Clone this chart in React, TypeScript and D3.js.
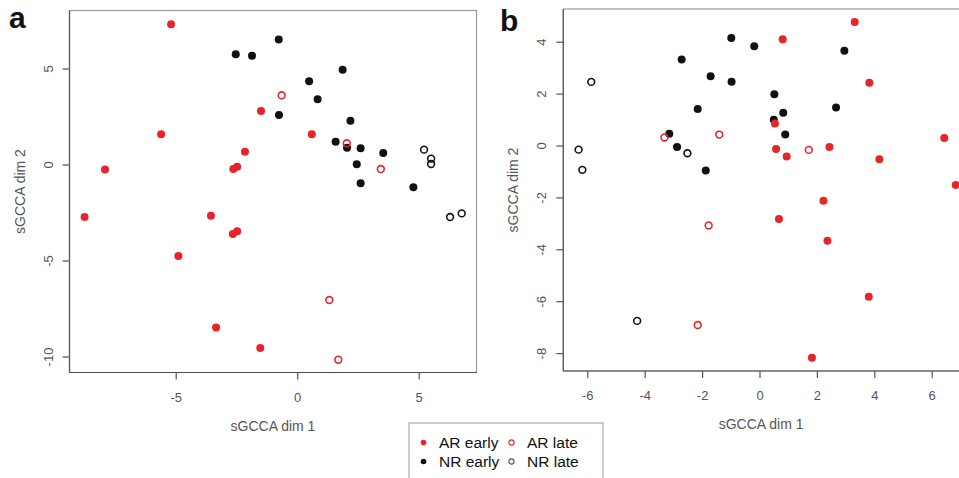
import React from "react";
import * as d3 from "d3";

// Panel a data: [sGCCA dim 1, sGCCA dim 2]
const aArEarly: [number, number][] = [
  [-5.21, 7.33], [-5.62, 1.6], [-7.93, -0.24], [-1.51, 2.81], [0.58, 1.6],
  [-2.17, 0.69], [-2.65, -0.21], [-2.49, -0.09], [-8.77, -2.71], [-3.57, -2.64],
  [-2.67, -3.59], [-2.49, -3.45], [-4.91, -4.74], [-3.36, -8.47], [-1.54, -9.53],
];
const aArLate: [number, number][] = [
  [-0.66, 3.63], [2.02, 1.13], [3.42, -0.21], [1.3, -7.03], [1.67, -10.14],
];
const aNrEarly: [number, number][] = [
  [-2.55, 5.77], [-1.88, 5.69], [-0.78, 6.54], [0.47, 4.36], [0.82, 3.42],
  [-0.77, 2.6], [1.85, 4.96], [2.17, 2.31], [1.56, 1.21], [2.03, 0.9],
  [2.59, 0.87], [3.52, 0.63], [2.43, 0.04], [2.59, -0.95], [4.76, -1.16],
];
const aNrLate: [number, number][] = [
  [5.2, 0.8], [5.49, 0.33], [5.49, 0.05], [6.27, -2.71], [6.75, -2.52],
];

// Panel b data
const bArEarly: [number, number][] = [
  [3.3, 4.78], [0.79, 4.11], [3.81, 2.44], [0.52, 0.87], [0.56, -0.12],
  [0.93, -0.4], [2.42, -0.04], [4.16, -0.51], [6.42, 0.31], [6.82, -1.5],
  [2.21, -2.11], [0.66, -2.81], [2.35, -3.65], [3.79, -5.81], [1.81, -8.16],
];
const bArLate: [number, number][] = [
  [-3.33, 0.33], [-1.42, 0.44], [1.7, -0.15], [-1.79, -3.06], [-2.17, -6.9],
];
const bNrEarly: [number, number][] = [
  [-1.0, 4.16], [-0.2, 3.84], [-2.73, 3.33], [-1.72, 2.69], [-0.99, 2.48],
  [2.94, 3.67], [0.5, 1.99], [0.81, 1.28], [0.48, 1.01], [0.88, 0.44],
  [2.65, 1.48], [-2.17, 1.43], [-3.16, 0.47], [-2.89, -0.04], [-1.89, -0.94],
];
const bNrLate: [number, number][] = [
  [-5.88, 2.47], [-6.32, -0.14], [-6.19, -0.92], [-2.53, -0.28], [-4.28, -6.74],
];

const aXTicks = [-5, 0, 5];
const aYTicks = [-10, -5, 0, 5];
const bXTicks = [-6, -4, -2, 0, 2, 4, 6];
const bYTicks = [-8, -6, -4, -2, 0, 2, 4];

const legendLabels = ["AR early", "AR late", "NR early", "NR late"];

const RED = "#e6242a";
const BLACK = "#111";
const FONT = "'Liberation Sans', Arial, Helvetica, sans-serif";

type PanelProps = {
  letter: string;
  left: number; right: number; top: number; bottom: number;
  xDomain: [number, number]; yDomain: [number, number];
  xTicks: number[]; yTicks: number[];
  arEarly: [number, number][]; arLate: [number, number][];
  nrEarly: [number, number][]; nrLate: [number, number][];
  letterX: number; letterY: number;
};

function Panel(p: PanelProps) {
  const x = d3.scaleLinear().domain(p.xDomain).range([p.left, p.right]);
  const y = d3.scaleLinear().domain(p.yDomain).range([p.bottom, p.top]);
  const axisColor = "#555";
  const r = 4;
  const filled = (pts: [number, number][], col: string) =>
    pts.map((d, i) => <circle key={col + "f" + i} cx={x(d[0])} cy={y(d[1])} r={r} fill={col} />);
  const open = (pts: [number, number][], col: string) =>
    pts.map((d, i) => (
      <circle key={col + "o" + i} cx={x(d[0])} cy={y(d[1])} r={r - 0.6} fill="none" stroke={col} strokeWidth={1.6} />
    ));
  const cx = (p.left + Math.min(p.right, 959)) / 2;
  return (
    <g fontFamily={FONT}>
      <text x={p.letterX} y={p.letterY} fontSize={30} fontWeight="bold" fill="#111">{p.letter}</text>
      <rect x={p.left} y={p.top} width={p.right - p.left} height={p.bottom - p.top} fill="none" stroke="#999" strokeWidth={1.2} />
      {/* x axis */}
      <line x1={p.left} x2={p.right} y1={p.bottom} y2={p.bottom} stroke={axisColor} strokeWidth={1.2} />
      {p.xTicks.map((t) => (
        <g key={"xt" + t}>
          <line x1={x(t)} x2={x(t)} y1={p.bottom} y2={p.bottom + 7} stroke={axisColor} strokeWidth={1.2} />
          <text x={x(t)} y={p.bottom + 29} textAnchor="middle" fontSize={13} fill={axisColor}>{t}</text>
        </g>
      ))}
      {/* y axis */}
      <line x1={p.left} x2={p.left} y1={p.top} y2={p.bottom} stroke={axisColor} strokeWidth={1.2} />
      {p.yTicks.map((t) => (
        <g key={"yt" + t}>
          <line x1={p.left - 7} x2={p.left} y1={y(t)} y2={y(t)} stroke={axisColor} strokeWidth={1.2} />
          <text
            transform={`translate(${p.left - 17},${y(t)}) rotate(-90)`}
            textAnchor="middle" fontSize={13} fill={axisColor}
          >{t}</text>
        </g>
      ))}
      <text x={cx} y={p.bottom + 58} textAnchor="middle" fontSize={14} fill={axisColor}>sGCCA dim 1</text>
      <text
        transform={`translate(${p.left - 45},${(p.top + p.bottom) / 2}) rotate(-90)`}
        textAnchor="middle" fontSize={14} fill={axisColor}
      >sGCCA dim 2</text>
      {filled(p.nrEarly, BLACK)}
      {filled(p.arEarly, RED)}
      {open(p.arLate, RED)}
      {open(p.nrLate, BLACK)}
    </g>
  );
}

export default function App() {
  const W = 959, H = 478;
  // panel a scales (calibration from tick positions)
  const ax = d3.scaleLinear().domain([0, 5]).range([297.7, 419.2]);
  const ay = d3.scaleLinear().domain([0, 5]).range([165, 69]);
  // panel b scales
  const bx = d3.scaleLinear().domain([0, 2]).range([760, 817.4]);
  const by = d3.scaleLinear().domain([0, 2]).range([146, 94.1]);
  const legendSym = [
    { col: RED, fill: true }, { col: RED, fill: false },
    { col: BLACK, fill: true }, { col: "#555", fill: false },
  ];
  return (
    <svg width={W} height={H} style={{ position: "absolute", left: 0, top: 0, background: "#fff" }}>
      <rect x={0} y={0} width={W} height={H} fill="#fff" />
      <Panel
        letter="a" left={69.5} right={476.5} top={10.5} bottom={372.5}
        xDomain={[ax.invert(69.5), ax.invert(476.5)]} yDomain={[ay.invert(372.5), ay.invert(10.5)]}
        xTicks={aXTicks} yTicks={aYTicks}
        arEarly={aArEarly} arLate={aArLate} nrEarly={aNrEarly} nrLate={aNrLate}
        letterX={9} letterY={28}
      />
      <Panel
        letter="b" left={563.3} right={975} top={9} bottom={371}
        xDomain={[bx.invert(563.3), bx.invert(975)]} yDomain={[by.invert(371), by.invert(9)]}
        xTicks={bXTicks} yTicks={bYTicks}
        arEarly={bArEarly} arLate={bArLate} nrEarly={bNrEarly} nrLate={bNrLate}
        letterX={500} letterY={31}
      />
      <g fontFamily={FONT}>
        <rect x={409} y={423} width={194} height={70} fill="#fff" stroke="#aaa" strokeWidth={1.2} />
        {legendLabels.map((lab, i) => {
          const col = i % 2, row = Math.floor(i / 2);
          const sx = col === 0 ? 423.5 : 511.5;
          const sy = row === 0 ? 442.5 : 461.5;
          const s = legendSym[i];
          return (
            <g key={lab}>
              {s.fill ? (
                <circle cx={sx} cy={sy} r={2.8} fill={s.col} />
              ) : (
                <circle cx={sx} cy={sy} r={2.6} fill="none" stroke={s.col} strokeWidth={1.1} />
              )}
              <text x={sx + 15.5} y={sy + 5.5} fontSize={15.5} fill="#111">{lab}</text>
            </g>
          );
        })}
      </g>
    </svg>
  );
}
